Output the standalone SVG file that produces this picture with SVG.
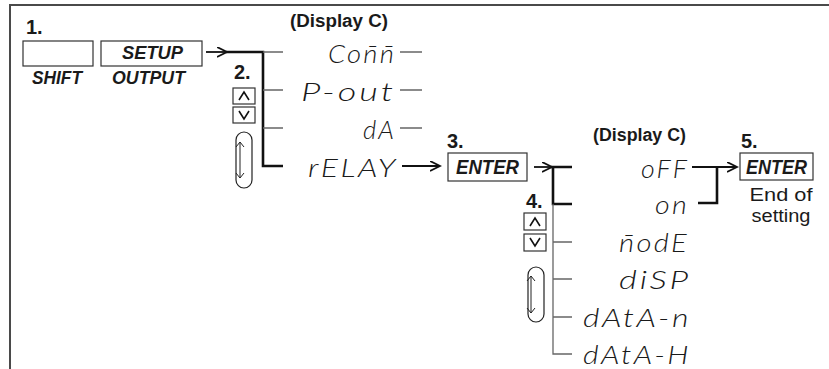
<svg xmlns="http://www.w3.org/2000/svg" width="829" height="369" viewBox="0 0 829 369">
<style>
.frame{fill:none;stroke:#4a4a4a;stroke-width:2}
.box{fill:#fff;stroke:#333;stroke-width:1.2}
.key{font-family:"Liberation Sans",Arial,sans-serif;font-weight:bold;font-style:italic;fill:#1a1a1a}
.step{font-family:"Liberation Sans",Arial,sans-serif;font-weight:bold;font-size:20px;fill:#1a1a1a}
.disp{font-family:"Liberation Sans",Arial,sans-serif;font-weight:bold;font-size:18px;fill:#1a1a1a}
.seg{font-family:Lato,"DejaVu Sans",sans-serif;font-weight:300;font-style:italic;font-size:25px;letter-spacing:2px;fill:#1a1a1a;text-anchor:end}
.note{font-family:"Liberation Sans",Arial,sans-serif;font-size:18px;fill:#1a1a1a;text-anchor:middle}
.thick{fill:none;stroke:#111;stroke-width:2.6}
.thin{fill:none;stroke:#666;stroke-width:1.3}
.arrow{fill:none;stroke:#111;stroke-width:1.8;marker-end:url(#ah)}
.chev{fill:none;stroke:#111;stroke-width:1.6}
.oval{fill:#fff;stroke:#222;stroke-width:1.2}
.dbl{fill:none;stroke:#222;stroke-width:1}
</style>
<defs>
<marker id="ah" markerUnits="userSpaceOnUse" markerWidth="12" markerHeight="12" refX="10" refY="5" orient="auto">
<path d="M0,0 L10,5 L0,10" fill="none" stroke="#111" stroke-width="1.8"/>
</marker>
</defs>
<rect width="829" height="369" fill="#fff"/>
<path class="frame" d="M10,369 V5 H829"/>

<g id="step1">
<text class="step" x="26" y="34">1.</text>
<rect class="box" x="23" y="41" width="70" height="25"/>
<text class="key" x="32" y="84" font-size="18" textLength="50" lengthAdjust="spacingAndGlyphs">SHIFT</text>
<rect class="box" x="101" y="41" width="101" height="25"/>
<text class="key" x="122" y="59" font-size="18" textLength="61" lengthAdjust="spacingAndGlyphs">SETUP</text>
<text class="key" x="112" y="84" font-size="18" textLength="73" lengthAdjust="spacingAndGlyphs">OUTPUT</text>
</g>

<g id="step2">
<text class="step" x="234" y="79">2.</text>
<rect class="box" x="233" y="88" width="22" height="16"/>
<path class="chev" d="M239,100 L244,92 L249,100"/>
<rect class="box" x="233" y="107" width="22" height="16"/>
<path class="chev" d="M239,111 L244,119 L249,111"/>
<rect class="oval" x="236" y="132" width="16" height="56" rx="8" ry="8"/>
<path class="dbl" d="M240,142 V178 M236,147 L240,142 L244,147 M236,173 L240,178 L244,173"/>
</g>

<g id="display1">
<text class="disp" x="290" y="27" textLength="98" lengthAdjust="spacingAndGlyphs">(Display C)</text>
<text class="seg" x="396" y="63" textLength="68" lengthAdjust="spacingAndGlyphs">Con̄n̄</text>
<text class="seg" x="396" y="101" textLength="95" lengthAdjust="spacingAndGlyphs">P-out</text>
<text class="seg" x="396" y="139" textLength="33" lengthAdjust="spacingAndGlyphs">dA</text>
<text class="seg" x="398" y="177" textLength="90" lengthAdjust="spacingAndGlyphs">rELAY</text>
</g>

<g id="step3">
<text class="step" x="447" y="148">3.</text>
<rect class="box" x="448" y="153" width="79" height="28"/>
<text class="key" x="456" y="174" font-size="20" textLength="63" lengthAdjust="spacingAndGlyphs">ENTER</text>
</g>

<g id="step4">
<text class="step" x="526" y="208">4.</text>
<rect class="box" x="524" y="213" width="22" height="17"/>
<path class="chev" d="M530,226 L535,218 L540,226"/>
<rect class="box" x="524" y="234" width="22" height="17"/>
<path class="chev" d="M530,238 L535,246 L540,238"/>
<rect class="oval" x="528" y="267" width="16" height="55" rx="8" ry="8"/>
<path class="dbl" d="M531,276 V313 M527,281 L531,276 L535,281 M527,308 L531,313 L535,308"/>
</g>

<g id="display2">
<text class="disp" x="593" y="141" textLength="93" lengthAdjust="spacingAndGlyphs">(Display C)</text>
<text class="seg" x="689" y="178" textLength="48" lengthAdjust="spacingAndGlyphs">oFF</text>
<text class="seg" x="689" y="214" textLength="34" lengthAdjust="spacingAndGlyphs">on</text>
<text class="seg" x="689" y="252" textLength="70" lengthAdjust="spacingAndGlyphs">n̄odE</text>
<text class="seg" x="691" y="289" textLength="72" lengthAdjust="spacingAndGlyphs">diSP</text>
<text class="seg" x="691" y="327" textLength="108" lengthAdjust="spacingAndGlyphs">dAtA-n</text>
<text class="seg" x="691" y="364" textLength="108" lengthAdjust="spacingAndGlyphs">dAtA-H</text>
</g>

<g id="step5">
<text class="step" x="741" y="148">5.</text>
<rect class="box" x="740" y="153" width="73" height="27"/>
<text class="key" x="746" y="174" font-size="20" textLength="61" lengthAdjust="spacingAndGlyphs">ENTER</text>
<text class="note" x="781" y="201" textLength="63" lengthAdjust="spacingAndGlyphs">End of</text>
<text class="note" x="781" y="222" textLength="59" lengthAdjust="spacingAndGlyphs">setting</text>
</g>

<g id="connectors">
<path class="arrow" d="M206,52 H227"/>
<path class="thick" d="M226,52 H263 V166 H283"/>
<path class="thin" d="M263,52 H283 M263,90 H283 M263,128 H283"/>
<path class="thin" d="M400,52 H422 M400,90 H422 M400,128 H422"/>
<path class="arrow" d="M402,166 H440"/>
<path class="arrow" d="M534,167 H552"/>
<path class="thick" d="M551,167 H572 M553,167 V204 H572"/>
<path class="thin" d="M553,204 V354 H572 M553,242 H572 M553,279 H572 M553,317 H572"/>
<path class="arrow" d="M692,167 H737"/>
<path class="thick" d="M698,203 H717 V167"/>
</g>
</svg>
